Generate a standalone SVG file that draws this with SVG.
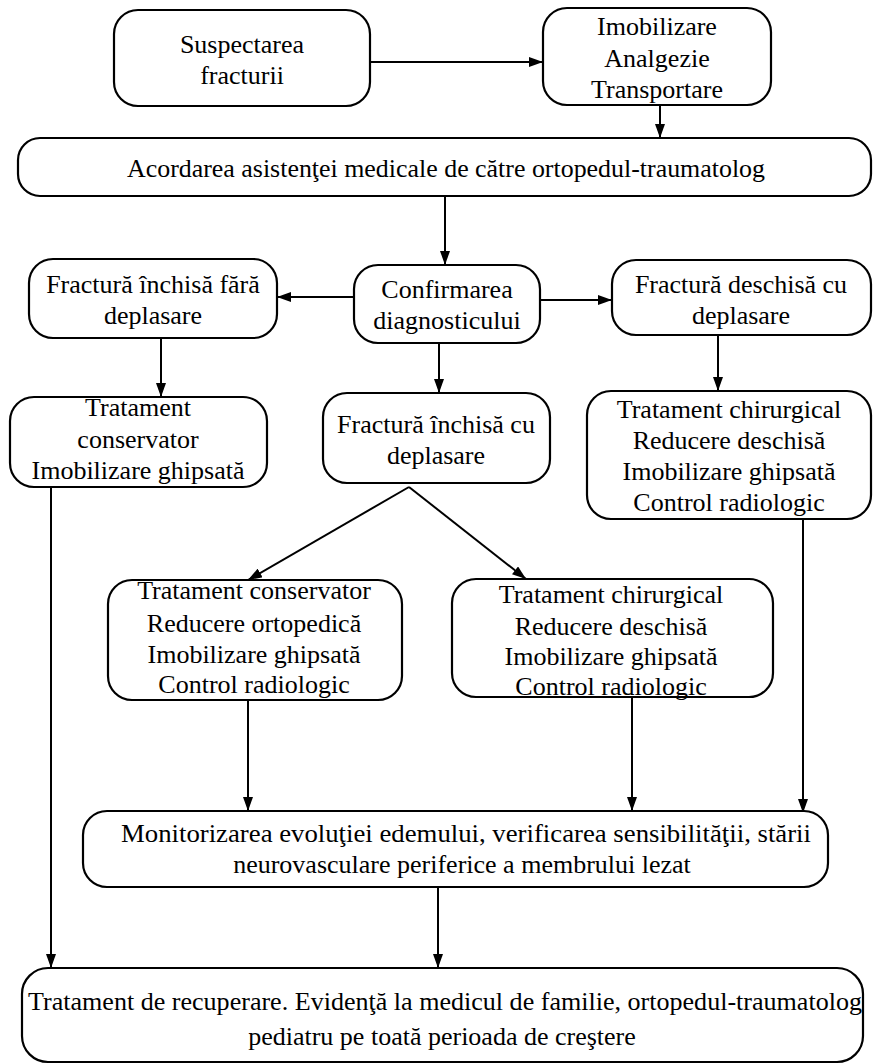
<svg xmlns="http://www.w3.org/2000/svg" width="873" height="1064" viewBox="0 0 873 1064">
<defs>
<marker id="ah" viewBox="0 0 14 10" refX="14" refY="5" markerWidth="14" markerHeight="10" markerUnits="userSpaceOnUse" orient="auto">
<path d="M0,0 L14,5 L0,10 z" fill="#000"/>
</marker>
<style>
.box{fill:#fff;stroke:#000;stroke-width:2.2}
.t{font-size:26px;fill:#000;text-anchor:middle}
.c{fill:none;stroke:#000;stroke-width:2;marker-end:url(#ah)}
</style>
</defs>
<rect width="873" height="1064" fill="#fff"/>
<g id="connectors">
<line class="c" x1="370" y1="62" x2="543" y2="62"/>
<line class="c" x1="660" y1="106" x2="660" y2="138"/>
<line class="c" x1="445" y1="196" x2="445" y2="265"/>
<line class="c" x1="354" y1="297" x2="277" y2="297"/>
<line class="c" x1="540" y1="300" x2="612" y2="300"/>
<line class="c" x1="161" y1="338" x2="161" y2="397"/>
<line class="c" x1="439" y1="343" x2="439" y2="393"/>
<line class="c" x1="718" y1="335" x2="718" y2="391"/>
<line class="c" x1="409" y1="487" x2="248" y2="580"/>
<line class="c" x1="409" y1="487" x2="526" y2="579"/>
<line class="c" x1="51" y1="487" x2="51" y2="968"/>
<line class="c" x1="248" y1="700" x2="248" y2="811"/>
<line class="c" x1="632" y1="697" x2="632" y2="811"/>
<line class="c" x1="803" y1="519" x2="803" y2="813"/>
<line class="c" x1="438" y1="887" x2="438" y2="968"/>
</g>
<g font-family="'Liberation Serif', 'Times New Roman', serif">
<g id="n1"><rect class="box" x="114" y="10" width="256" height="96" rx="24"/>
<text class="t" x="242" y="53">Suspectarea</text><text class="t" x="242" y="84">fracturii</text></g>
<g id="n2"><rect class="box" x="543" y="8" width="228" height="97" rx="24"/>
<text class="t" x="657" y="35">Imobilizare</text><text class="t" x="657" y="67">Analgezie</text><text class="t" x="657" y="98">Transportare</text></g>
<g id="n3"><rect class="box" x="18" y="138" width="853" height="58" rx="22"/>
<text class="t" x="446" y="177" textLength="638" lengthAdjust="spacingAndGlyphs">Acordarea asistenţei medicale de către ortopedul-traumatolog</text></g>
<g id="n4"><rect class="box" x="29" y="259" width="248" height="79" rx="24"/>
<text class="t" x="153" y="293">Fractură închisă fără</text><text class="t" x="153" y="324">deplasare</text></g>
<g id="n5"><rect class="box" x="354" y="265" width="186" height="78" rx="24"/>
<text class="t" x="447" y="298">Confirmarea</text><text class="t" x="447" y="329">diagnosticului</text></g>
<g id="n6"><rect class="box" x="612" y="260" width="259" height="75" rx="24"/>
<text class="t" x="741" y="293">Fractură deschisă cu</text><text class="t" x="741" y="324">deplasare</text></g>
<g id="n7"><rect class="box" x="10" y="397" width="257" height="90" rx="24"/>
<text class="t" x="138" y="416">Tratament</text><text class="t" x="138" y="448">conservator</text><text class="t" x="138" y="479">Imobilizare ghipsată</text></g>
<g id="n8"><rect class="box" x="323" y="393" width="227" height="90" rx="24"/>
<text class="t" x="436" y="433">Fractură închisă cu</text><text class="t" x="436" y="464">deplasare</text></g>
<g id="n9"><rect class="box" x="587" y="391" width="284" height="128" rx="24"/>
<text class="t" x="729" y="418">Tratament chirurgical</text><text class="t" x="729" y="449">Reducere deschisă</text><text class="t" x="729" y="480">Imobilizare ghipsată</text><text class="t" x="729" y="511">Control radiologic</text></g>
<g id="n10"><rect class="box" x="108" y="580" width="294" height="120" rx="24"/>
<text class="t" x="254" y="599">Tratament conservator</text><text class="t" x="254" y="632">Reducere ortopedică</text><text class="t" x="254" y="663">Imobilizare ghipsată</text><text class="t" x="254" y="693">Control radiologic</text></g>
<g id="n11"><rect class="box" x="452" y="579" width="321" height="118" rx="24"/>
<text class="t" x="611" y="603">Tratament chirurgical</text><text class="t" x="611" y="635">Reducere deschisă</text><text class="t" x="611" y="665">Imobilizare ghipsată</text><text class="t" x="611" y="695">Control radiologic</text></g>
<g id="n12"><rect class="box" x="83" y="811" width="745" height="76" rx="24"/>
<text class="t" x="466" y="842" textLength="690" lengthAdjust="spacingAndGlyphs">Monitorizarea evoluţiei edemului, verificarea sensibilităţii, stării</text><text class="t" x="462" y="873">neurovasculare periferice a membrului lezat</text></g>
<g id="n13"><rect class="box" x="22" y="968" width="841" height="94" rx="26"/>
<text class="t" x="445" y="1010" textLength="834" lengthAdjust="spacingAndGlyphs">Tratament de recuperare. Evidenţă la medicul de familie, ortopedul-traumatolog</text><text class="t" x="442" y="1045">pediatru pe toată perioada de creştere</text></g>
</g>
</svg>
